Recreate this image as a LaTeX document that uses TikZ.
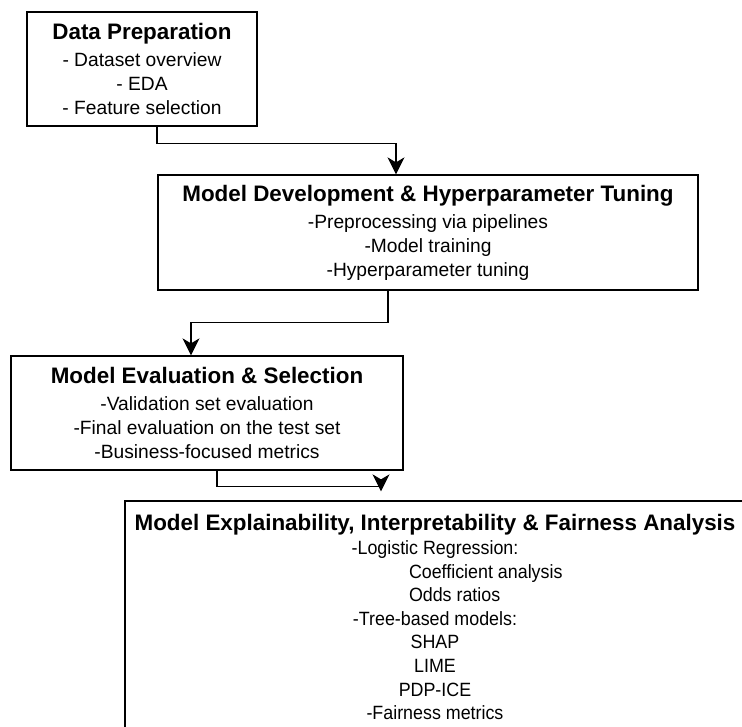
\documentclass[tikz,border=0pt]{standalone}
\usepackage{fontspec}
\setmainfont{Liberation Sans}
\newfontfamily\narrowsans{Liberation Sans}[FakeStretch=0.93]
\usetikzlibrary{arrows.meta}

\newcommand{\boxtitle}[2][3pt]{{\rmfamily\fontsize{22.4}{24}\selectfont\bfseries #2}\\[#1]}
\newcommand{\shifted}[1]{\makebox[0pt][l]{\hspace*{-26pt}#1}}

\begin{document}
\begin{tikzpicture}[x=1pt,y=1pt,
    stage/.style={draw, line width=1.3pt, align=center, inner sep=0pt,
      font=\fontsize{19.2}{24}\selectfont},
    link/.style={draw, line width=1.4pt, -{Stealth[length=17pt,width=17pt,inset=5pt]}}]
  \useasboundingbox (0,0) rectangle (742,-726);
  \clip (0,0) rectangle (742,-726);

  \node[stage, minimum width=230pt, minimum height=114pt] (prep) at (142,-69)
    {\boxtitle{Data Preparation}- Dataset overview\\- EDA\\- Feature selection};
  \node[stage, minimum width=540pt, minimum height=115pt] (dev) at (428,-232.5)
    {\boxtitle{Model Development \& Hyperparameter Tuning}-Preprocessing via pipelines\\-Model training\\-Hyperparameter tuning};
  \node[stage, minimum width=392pt, minimum height=114pt] (eval) at (207,-413)
    {\boxtitle{Model Evaluation \& Selection}-Validation set evaluation\\-Final evaluation on the test set\\-Business-focused metrics};
  \node[stage, minimum width=620pt, minimum height=232pt,
    font=\narrowsans\fontsize{19.2}{23.6}\selectfont] (expl) at (435,-617)
    {\boxtitle[0.5pt]{Model Explainability, Interpretability \& Fairness Analysis}-Logistic Regression:\\
     \shifted{Coefficient analysis}\\\shifted{Odds ratios}\\-Tree-based models:\\SHAP\\LIME\\PDP-ICE\\-Fairness metrics};

  \draw[link] ([xshift=15pt]prep.south) -- ++(0,-17) -| ([xshift=-32pt]dev.north);
  \draw[link] ([xshift=-40pt]dev.south) -- ++(0,-32) -| ([xshift=-16pt]eval.north);
  \draw[link, shorten >=9pt] ([xshift=10pt]eval.south) -- ++(0,-16) -| ([xshift=-54pt]expl.north);
\end{tikzpicture}
\end{document}
